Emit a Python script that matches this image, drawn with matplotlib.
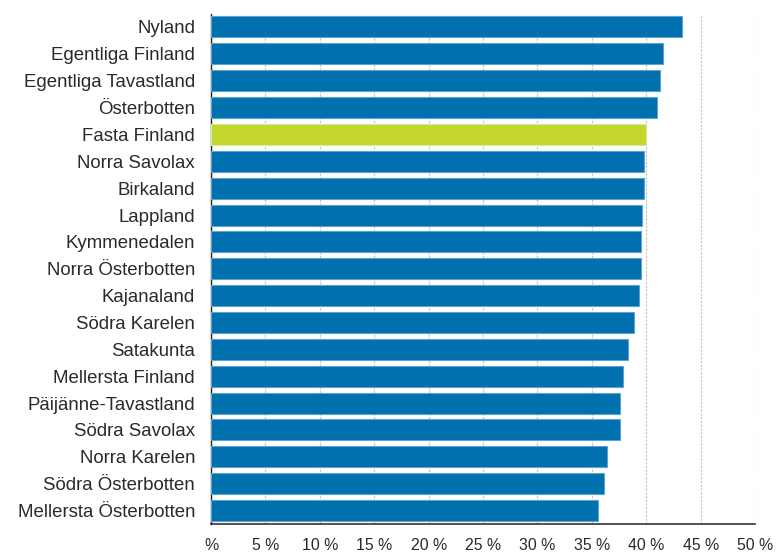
import matplotlib
matplotlib.use("Agg")
import matplotlib.pyplot as plt

regions = ["Nyland", "Egentliga Finland", "Egentliga Tavastland", "Österbotten",
           "Fasta Finland", "Norra Savolax", "Birkaland", "Lappland", "Kymmenedalen",
           "Norra Österbotten", "Kajanaland", "Södra Karelen", "Satakunta",
           "Mellersta Finland", "Päijänne-Tavastland", "Södra Savolax", "Norra Karelen",
           "Södra Österbotten", "Mellersta Österbotten"]
values = [43.3, 41.5, 41.25, 41.0, 40.0, 39.8, 39.8, 39.6, 39.5, 39.5, 39.3, 38.9,
          38.3, 37.85, 37.6, 37.6, 36.4, 36.1, 35.6]
highlight = "Fasta Finland"
xticks = [0, 5, 10, 15, 20, 25, 30, 35, 40, 45, 50]
xtick_labels = ["%", "5 %", "10 %", "15 %", "20 %", "25 %", "30 %", "35 %", "40 %", "45 %", "50 %"]

plt.rcParams['font.family'] = ['Liberation Sans', 'DejaVu Sans']

fig = plt.figure(figsize=(7.76, 5.52), dpi=100)
ax = fig.add_axes([0.272, 0.0507, 0.701, 0.9248])

blue = "#0070ae"
green = "#c2d62e"
colors = [green if r == highlight else blue for r in regions]
edge = ["#d8e89a" if r == highlight else "#5fa3cf" for r in regions]
y = list(range(len(regions)))
ax.barh(y, values, height=0.78, color=colors, edgecolor=edge, linewidth=0.8, zorder=3)

ax.set_ylim(len(regions) - 0.5, -0.5)
ax.set_xlim(0, 50)
ax.set_yticks(y)
ax.set_yticklabels(regions, fontsize=13.4, color="#2a2a2a")
ax.set_xticks(xticks)
ax.set_xticklabels(xtick_labels, fontsize=11.4, color="#2a2a2a")
ax.tick_params(axis="both", length=0)
ax.tick_params(axis="x", pad=10)
ax.tick_params(axis="y", pad=11.5)

ax.grid(axis="x", color="#c8c8c8", linestyle=(0, (2, 1)), linewidth=0.9, zorder=0)
ax.grid(axis="y", visible=False)
for s in ["top", "right"]:
    ax.spines[s].set_visible(False)
ax.spines["left"].set_color("#222222")
ax.spines["bottom"].set_color("#333333")
ax.spines["left"].set_linewidth(1.0)
ax.spines["bottom"].set_linewidth(1.2)

fig.savefig("out.png", dpi=100)
